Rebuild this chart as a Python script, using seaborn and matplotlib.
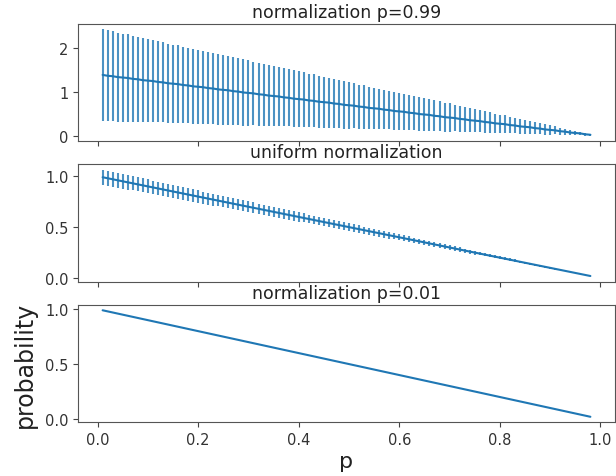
import numpy as np
import pandas as pd
import seaborn as sns
import matplotlib
matplotlib.use("Agg")
import matplotlib.pyplot as plt

# p values on the x axis
p = [0.01, 0.02, 0.03, 0.04, 0.05, 0.06, 0.07, 0.08, 0.09, 0.10,
     0.11, 0.12, 0.13, 0.14, 0.15, 0.16, 0.17, 0.18, 0.19, 0.20,
     0.21, 0.22, 0.23, 0.24, 0.25, 0.26, 0.27, 0.28, 0.29, 0.30,
     0.31, 0.32, 0.33, 0.34, 0.35, 0.36, 0.37, 0.38, 0.39, 0.40,
     0.41, 0.42, 0.43, 0.44, 0.45, 0.46, 0.47, 0.48, 0.49, 0.50,
     0.51, 0.52, 0.53, 0.54, 0.55, 0.56, 0.57, 0.58, 0.59, 0.60,
     0.61, 0.62, 0.63, 0.64, 0.65, 0.66, 0.67, 0.68, 0.69, 0.70,
     0.71, 0.72, 0.73, 0.74, 0.75, 0.76, 0.77, 0.78, 0.79, 0.80,
     0.81, 0.82, 0.83, 0.84, 0.85, 0.86, 0.87, 0.88, 0.89, 0.90,
     0.91, 0.92, 0.93, 0.94, 0.95, 0.96, 0.97, 0.98]

# normalization p=0.99 : mean and error
mean_099 = [1.39, 1.37, 1.36, 1.34, 1.33, 1.32, 1.30, 1.29, 1.27, 1.26,
            1.25, 1.23, 1.22, 1.20, 1.19, 1.18, 1.16, 1.15, 1.13, 1.12,
            1.11, 1.09, 1.08, 1.06, 1.05, 1.04, 1.02, 1.01, 0.99, 0.98,
            0.97, 0.95, 0.94, 0.92, 0.91, 0.90, 0.88, 0.87, 0.85, 0.84,
            0.83, 0.81, 0.80, 0.78, 0.77, 0.76, 0.74, 0.73, 0.71, 0.70,
            0.69, 0.67, 0.66, 0.64, 0.63, 0.62, 0.60, 0.59, 0.57, 0.56,
            0.55, 0.53, 0.52, 0.50, 0.49, 0.48, 0.46, 0.45, 0.43, 0.42,
            0.41, 0.39, 0.38, 0.36, 0.35, 0.34, 0.32, 0.31, 0.29, 0.28,
            0.27, 0.25, 0.24, 0.22, 0.21, 0.20, 0.18, 0.17, 0.15, 0.14,
            0.13, 0.11, 0.10, 0.08, 0.07, 0.06, 0.04, 0.03]
err_099 = [1.04, 1.03, 1.02, 1.01, 1.00, 0.99, 0.98, 0.97, 0.96, 0.95,
           0.93, 0.92, 0.91, 0.90, 0.89, 0.88, 0.87, 0.86, 0.85, 0.84,
           0.83, 0.82, 0.81, 0.80, 0.79, 0.78, 0.77, 0.76, 0.75, 0.74,
           0.72, 0.71, 0.70, 0.69, 0.68, 0.67, 0.66, 0.65, 0.64, 0.63,
           0.62, 0.61, 0.60, 0.59, 0.58, 0.57, 0.56, 0.55, 0.54, 0.53,
           0.51, 0.50, 0.49, 0.48, 0.47, 0.46, 0.45, 0.44, 0.43, 0.42,
           0.41, 0.40, 0.39, 0.38, 0.37, 0.36, 0.35, 0.34, 0.33, 0.32,
           0.30, 0.29, 0.28, 0.27, 0.26, 0.25, 0.24, 0.23, 0.22, 0.21,
           0.20, 0.19, 0.18, 0.17, 0.16, 0.15, 0.14, 0.13, 0.12, 0.11,
           0.09, 0.08, 0.07, 0.06, 0.05, 0.04, 0.03, 0.02]

# uniform normalization
mean_uni = [0.99, 0.98, 0.97, 0.96, 0.95, 0.94, 0.93, 0.92, 0.91, 0.90,
            0.89, 0.88, 0.87, 0.86, 0.85, 0.84, 0.83, 0.82, 0.81, 0.80,
            0.79, 0.78, 0.77, 0.76, 0.75, 0.74, 0.73, 0.72, 0.71, 0.70,
            0.69, 0.68, 0.67, 0.66, 0.65, 0.64, 0.63, 0.62, 0.61, 0.60,
            0.59, 0.58, 0.57, 0.56, 0.55, 0.54, 0.53, 0.52, 0.51, 0.50,
            0.49, 0.48, 0.47, 0.46, 0.45, 0.44, 0.43, 0.42, 0.41, 0.40,
            0.39, 0.38, 0.37, 0.36, 0.35, 0.34, 0.33, 0.32, 0.31, 0.30,
            0.29, 0.28, 0.27, 0.26, 0.25, 0.24, 0.23, 0.22, 0.21, 0.20,
            0.19, 0.18, 0.17, 0.16, 0.15, 0.14, 0.13, 0.12, 0.11, 0.10,
            0.09, 0.08, 0.07, 0.06, 0.05, 0.04, 0.03, 0.02]
err_uni = [0.074, 0.074, 0.073, 0.072, 0.071, 0.071, 0.070, 0.069, 0.068, 0.068,
           0.067, 0.066, 0.065, 0.065, 0.064, 0.063, 0.062, 0.062, 0.061, 0.060,
           0.059, 0.059, 0.058, 0.057, 0.056, 0.056, 0.055, 0.054, 0.053, 0.053,
           0.052, 0.051, 0.050, 0.050, 0.049, 0.048, 0.047, 0.047, 0.046, 0.045,
           0.044, 0.044, 0.043, 0.042, 0.041, 0.041, 0.040, 0.039, 0.038, 0.038,
           0.037, 0.036, 0.035, 0.035, 0.034, 0.033, 0.032, 0.032, 0.031, 0.030,
           0.029, 0.029, 0.028, 0.027, 0.026, 0.026, 0.025, 0.024, 0.023, 0.023,
           0.022, 0.021, 0.020, 0.020, 0.019, 0.018, 0.017, 0.017, 0.016, 0.015,
           0.014, 0.014, 0.013, 0.012, 0.011, 0.011, 0.010, 0.009, 0.008, 0.008,
           0.007, 0.006, 0.005, 0.005, 0.004, 0.003, 0.002, 0.002]

# normalization p=0.01 (no visible error)
mean_001 = [0.99, 0.98, 0.97, 0.96, 0.95, 0.94, 0.93, 0.92, 0.91, 0.90,
            0.89, 0.88, 0.87, 0.86, 0.85, 0.84, 0.83, 0.82, 0.81, 0.80,
            0.79, 0.78, 0.77, 0.76, 0.75, 0.74, 0.73, 0.72, 0.71, 0.70,
            0.69, 0.68, 0.67, 0.66, 0.65, 0.64, 0.63, 0.62, 0.61, 0.60,
            0.59, 0.58, 0.57, 0.56, 0.55, 0.54, 0.53, 0.52, 0.51, 0.50,
            0.49, 0.48, 0.47, 0.46, 0.45, 0.44, 0.43, 0.42, 0.41, 0.40,
            0.39, 0.38, 0.37, 0.36, 0.35, 0.34, 0.33, 0.32, 0.31, 0.30,
            0.29, 0.28, 0.27, 0.26, 0.25, 0.24, 0.23, 0.22, 0.21, 0.20,
            0.19, 0.18, 0.17, 0.16, 0.15, 0.14, 0.13, 0.12, 0.11, 0.10,
            0.09, 0.08, 0.07, 0.06, 0.05, 0.04, 0.03, 0.02]

titles = ['normalization p=0.99', 'uniform normalization', 'normalization p=0.01']

sns.set_style('ticks')
plt.rcParams['font.family'] = ['DejaVu Sans']

fig, axes = plt.subplots(3, 1, sharex=True, figsize=(6.16, 4.77), dpi=100)
fig.subplots_adjust(left=0.127, right=0.998, top=0.948, bottom=0.113, hspace=0.2)

blue = '#1f77b4'
series = [(mean_099, err_099), (mean_uni, err_uni), (mean_001, None)]
for ax, (m, e), t in zip(axes, series, titles):
    df = pd.DataFrame({'p': p, 'prob': m})
    if e is not None:
        ax.errorbar(p, m, yerr=e, fmt='none', ecolor=blue, elinewidth=1.5, alpha=0.8)
    sns.lineplot(data=df, x='p', y='prob', ax=ax, color=blue, linewidth=1.5)
    ax.set_title(t, fontsize=12.5, pad=5, color='#222222')
    ax.set_xlabel('')
    ax.set_ylabel('')
    for s in ax.spines.values():
        s.set_color('#555555')
    ax.tick_params(colors='#444444', labelcolor='#333333', labelsize=10.5)

axes[0].set_yticks([0, 1, 2])
axes[1].set_yticks([0.0, 0.5, 1.0])
axes[2].set_yticks([0.0, 0.5, 1.0])
axes[2].set_xticks([0.0, 0.2, 0.4, 0.6, 0.8, 1.0])

axes[2].set_ylabel('probability', fontsize=17, labelpad=6, color='#222222')
axes[2].set_xlabel('p', fontsize=16, labelpad=3, color='#222222')

fig.savefig('out.png', dpi=100)
